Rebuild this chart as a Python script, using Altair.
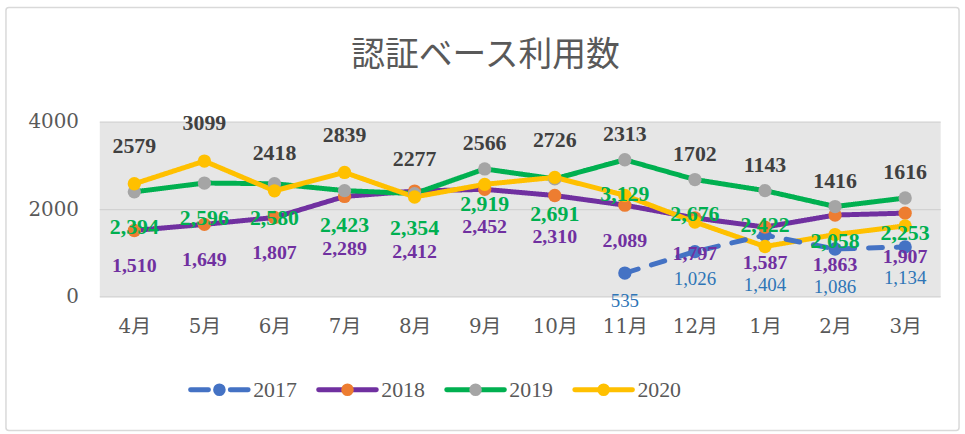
import altair as alt
import pandas as pd

title_text = "認証ベース利用数"
months = ["4月", "5月", "6月", "7月", "8月", "9月", "10月", "11月", "12月", "1月", "2月", "3月"]
series_names = ["2017", "2018", "2019", "2020"]
v2017 = [None, None, None, None, None, None, None, 535, 1026, 1404, 1086, 1134]
v2018 = [1510, 1649, 1807, 2289, 2412, 2452, 2310, 2089, 1797, 1587, 1863, 1907]
v2019 = [2394, 2596, 2580, 2423, 2354, 2919, 2691, 3129, 2676, 2422, 2058, 2253]
v2020 = [2579, 3099, 2418, 2839, 2277, 2566, 2726, 2313, 1702, 1143, 1416, 1616]
y_ticks = [0, 2000, 4000]

line_colors = ["#4472C4", "#7030A0", "#00B050", "#FFC000"]
marker_colors = ["#4472C4", "#ED7D31", "#A5A5A5", "#FFC000"]
label_colors = ["#2E75B6", "#7030A0", "#00B050", "#404040"]

W, H, YMAX = 847, 176, 4000
U = YMAX / H  # data units per pixel, used to keep labels from colliding

rows = []
for i, m in enumerate(months):
    a, b, c, d = v2017[i], v2018[i], v2019[i], v2020[i]
    l19 = c - 35 * U
    l20 = max(d + 38 * U, c + 26 * U)
    l18 = min(b - 36 * U, l19 - 24 * U)
    vals = [(a, None), (b, l18), (c, l19), (d, l20)]
    if a is not None:
        vals[0] = (a, min(a - 28 * U, l18 - 22 * U))
    for idx, (name, (v, lab)) in enumerate(zip(series_names, vals)):
        if v is not None:
            rows.append({"month": m, "series": name, "idx": idx, "value": v, "label_y": lab})
df = pd.DataFrame(rows)

# legend entries: slot index, with the symbol line spanning a fraction of a slot
legend_df = pd.DataFrame({"series": series_names, "idx": list(range(4))})
legend_df["lo"] = legend_df["idx"] - 0.225
legend_df["hi"] = legend_df["idx"] + 0.225

NUM_FONT = "DejaVu Serif, Noto Sans CJK JP, serif"
LBL_FONT = "Liberation Serif, serif"
GRAY = "#595959"

X = alt.X("month:N", scale=alt.Scale(domain=months), title=None,
          axis=alt.Axis(labelAngle=0, domain=False, ticks=False, grid=False,
                        labelFont=NUM_FONT, labelFontSize=20, labelColor=GRAY,
                        labelPadding=20))
yscale = alt.Scale(domain=[0, YMAX])
Y = alt.Y("value:Q", scale=yscale, title=None,
          axis=alt.Axis(values=y_ticks, format="d", domain=False, ticks=False, grid=True,
                        gridColor="#d2d2d2", gridWidth=1.2,
                        labelFont=NUM_FONT, labelFontSize=20, labelColor=GRAY,
                        labelPadding=21))
YL = alt.Y("label_y:Q", scale=yscale, title=None)

base = alt.Chart(df)

lines = base.mark_line(strokeWidth=5, strokeCap="round", strokeJoin="round").encode(
    x=X, y=Y,
    color=alt.Color("series:N", scale=alt.Scale(domain=series_names, range=line_colors), legend=None),
    strokeDash=alt.StrokeDash("series:N",
                              scale=alt.Scale(domain=series_names, range=[[14, 14], [1, 0], [1, 0], [1, 0]]),
                              legend=None),
    detail="series:N",
)

points = base.mark_circle(size=180, opacity=1).encode(
    x=X, y=Y,
    fill=alt.Fill("series:N", scale=alt.Scale(domain=series_names, range=marker_colors), legend=None),
    order=alt.Order("idx:Q"),
)

label_specs = {
    "2017": dict(size=19, weight="normal", fmt=","),
    "2018": dict(size=20, weight="bold", fmt=","),
    "2019": dict(size=22, weight="bold", fmt=","),
    "2020": dict(size=22, weight="bold", fmt="d"),
}
texts = []
for name, col in zip(series_names, label_colors):
    s = label_specs[name]
    texts.append(
        base.transform_filter(alt.datum.series == name).mark_text(
            font=LBL_FONT, fontSize=s["size"], fontWeight=s["weight"], color=col,
            baseline="middle", align="center",
        ).encode(x=X, y=YL, text=alt.Text("value:Q", format=s["fmt"]))
    )

main = alt.layer(lines, points, *texts[::-1])

lscale = alt.Scale(domain=[0, 3], range=[121, 508], nice=False, zero=False)
LXc = alt.X("idx:Q", scale=lscale, axis=None)
leg_base = alt.Chart(legend_df)
leg_lines = leg_base.mark_rule(strokeWidth=5, strokeCap="round").encode(
    x=alt.X("lo:Q", scale=lscale, axis=None), x2=alt.X2("hi"), y=alt.value(270),
    color=alt.Color("series:N", scale=alt.Scale(domain=series_names, range=line_colors), legend=None),
    strokeDash=alt.StrokeDash("series:N",
                              scale=alt.Scale(domain=series_names, range=[[18, 22], [1, 0], [1, 0], [1, 0]]),
                              legend=None),
)
leg_pts = leg_base.mark_circle(size=160, opacity=1).encode(
    x=LXc, y=alt.value(270),
    fill=alt.Fill("series:N", scale=alt.Scale(domain=series_names, range=marker_colors), legend=None),
)
leg_txt = leg_base.mark_text(align="left", baseline="middle", dx=34, font=LBL_FONT,
                             fontSize=22, color=GRAY).encode(
    x=LXc, y=alt.value(270), text="series:N")
legend = alt.layer(leg_lines, leg_pts, leg_txt)

title_mark = alt.Chart(alt.Data(values=[{"t": title_text}])).mark_text(
    font="Noto Sans CJK JP", fontSize=34, color=GRAY, align="center", baseline="middle"
).encode(text="t:N", x=alt.value(389), y=alt.value(-66))

border = alt.Chart(alt.Data(values=[{"a": 1}])).mark_rect(
    fill="transparent", stroke="#d9d9d9", strokeWidth=1.5, cornerRadius=3
).encode(x=alt.value(-94), x2=alt.value(866), y=alt.value(-115), y2=alt.value(311))

chart = alt.layer(main, legend, title_mark, border).resolve_scale(
    x="independent", color="independent", fill="independent", strokeDash="independent"
).properties(
    width=W, height=H,
).configure_view(fill="#e6e6e6", stroke="transparent")

chart.save("out.html", embed_options={"renderer": "svg", "actions": False})
